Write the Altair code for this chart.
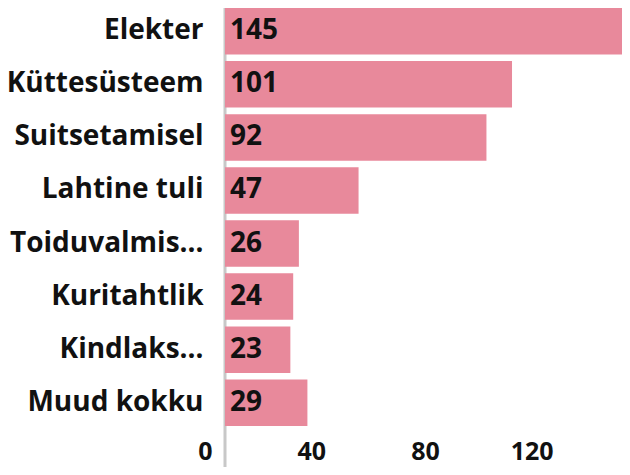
import altair as alt
import pandas as pd

categories = ["Elekter", "Küttesüsteem", "Suitsetamisel", "Lahtine tuli",
              "Toiduvalmis…", "Kuritahtlik", "Kindlaks…", "Muud kokku"]
values = [145, 101, 92, 47, 26, 24, 23, 29]
x_ticks = [0, 40, 80, 120]

df = pd.DataFrame({"category": categories, "value": values})

FONT = "Open Sans"
BAR_COLOR = "#E8899B"

y_enc = alt.Y("category:N", sort=categories,
              scale=alt.Scale(paddingInner=0.123, paddingOuter=0),
              axis=alt.Axis(title=None, domain=False, ticks=False,
                            labelFont=FONT, labelFontWeight="bold",
                            labelFontSize=28, labelColor="#111111",
                            labelPadding=22, labelLimit=400))
x_scale = alt.Scale(domain=[0, 139.7], nice=False)

bars = alt.Chart(df).mark_bar(color=BAR_COLOR).encode(
    x=alt.X("value:Q", scale=x_scale,
            axis=alt.Axis(title=None, values=x_ticks, domain=False, ticks=False,
                          grid=False, labelFont=FONT, labelFontWeight="bold",
                          labelFontSize=25, labelColor="#111111",
                          labelAlign="right", labelOffset=-13,
                          labelBaseline="top", labelPadding=13)),
    y=y_enc,
)

labels = alt.Chart(df).mark_text(align="left", baseline="middle", dx=5,
                                 font=FONT, fontWeight="bold", fontSize=28,
                                 color="#111111").encode(
    x=alt.value(0),
    y=alt.Y("category:N", sort=categories),
    text="value:Q",
)

rule_df = pd.DataFrame({"v": [0]})
rule = alt.Chart(rule_df).mark_rule(color="#C8C8C8", strokeWidth=3).encode(
    x=alt.X("v:Q", scale=x_scale),
    y=alt.value(-20),
    y2=alt.value(480),
)

chart = alt.layer(rule, bars, labels).properties(
    width=397, height=418,
    autosize=alt.AutoSizeParams(type="none"),
    padding={"left": 217, "top": 0, "right": 0, "bottom": 41},
).configure_view(stroke=None)

chart.save("out.html", embed_options={"renderer": "svg", "actions": False})
